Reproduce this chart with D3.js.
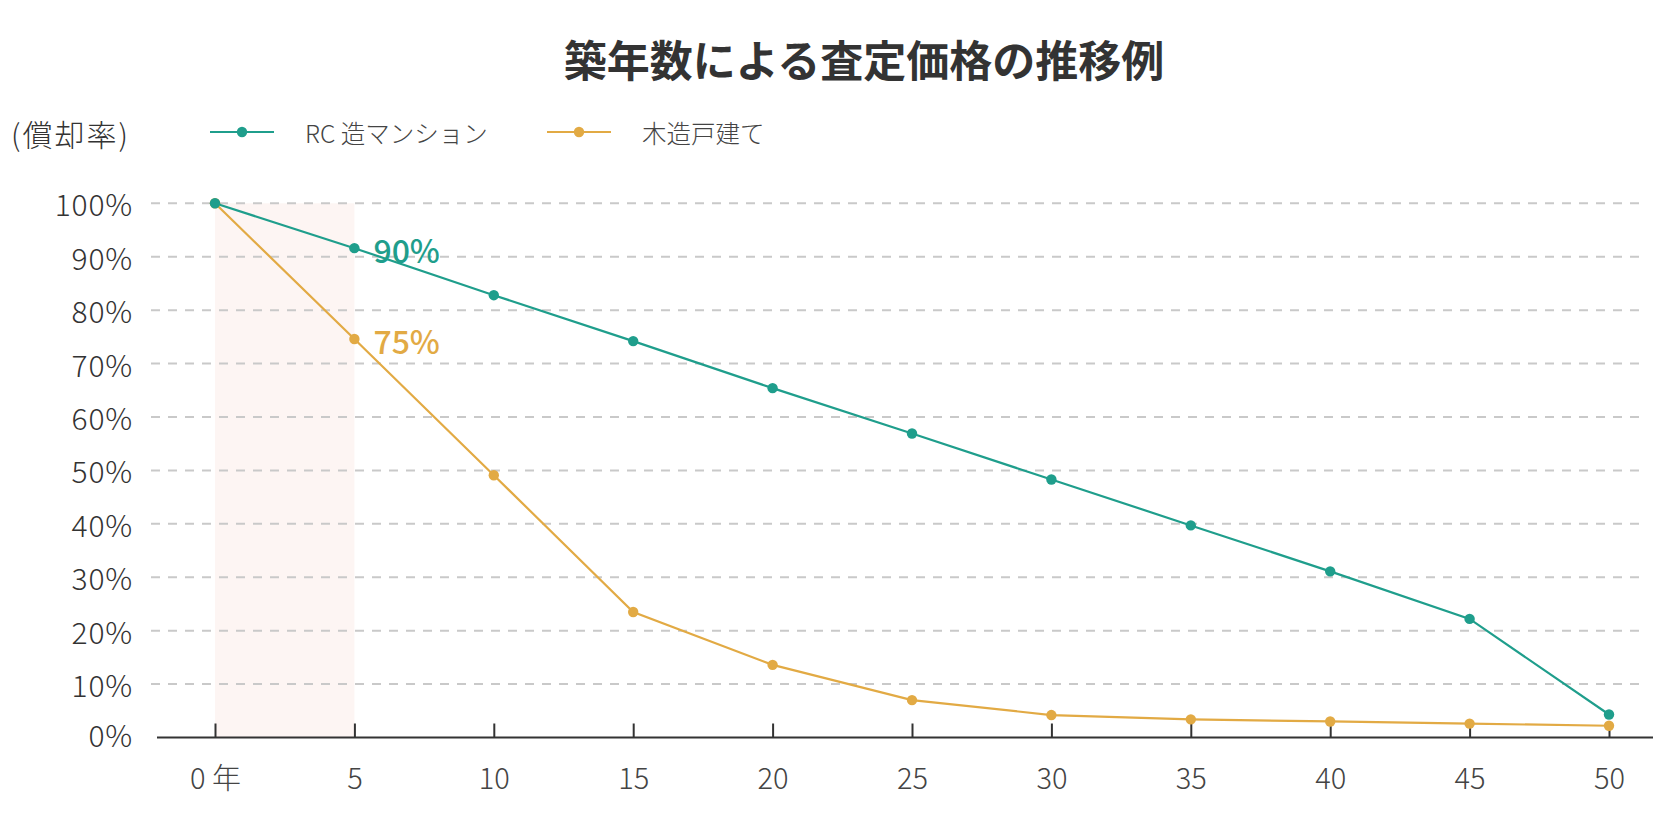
<!DOCTYPE html>
<html><head><meta charset="utf-8">
<script src="https://cdn.jsdelivr.net/npm/d3@7/dist/d3.min.js"></script>
<style>
html,body{margin:0;padding:0;background:#fff;}
svg{display:block;font-family:"Noto Sans CJK JP","Noto Sans",sans-serif;}
</style></head>
<body><svg id="c" width="1665" height="839"></svg>
<script>
const years = [0,5,10,15,20,25,30,35,40,45,50];
const rcValues = [100,91.6,82.8,74.2,65.4,56.9,48.3,39.7,31.1,22.2,4.3];
const woodValues = [100,74.6,49.1,23.5,13.6,7.0,4.2,3.4,3.0,2.6,2.2];
const yTicks = [0,10,20,30,40,50,60,70,80,90,100];
const seriesNames = ["RC 造マンション","木造戸建て"];
const annotations = [{year:5, series:0, text:"90%"},{year:5, series:1, text:"75%"}];
const title = "築年数による査定価格の推移例";
const yLabel = "(償却率)";
const colors = ["#1f9e8c","#e2aa44"];

const svg = d3.select("#c");
const x = d3.scaleLinear().domain([0,50]).range([215,1609]);
const y = d3.scaleLinear().domain([0,100]).range([737.5,203.3]);

// shaded region 0-5 years
svg.append("rect").attr("x",x(0)).attr("y",y(100)).attr("width",x(5)-x(0)).attr("height",y(0)-y(100)).attr("fill","#fdf5f3");

// gridlines
svg.append("g").selectAll("line").data(yTicks.filter(d=>d>0)).join("line")
  .attr("x1",151).attr("x2",1646).attr("y1",d=>y(d)).attr("y2",d=>y(d))
  .attr("stroke","#c9c9c9").attr("stroke-width",2).attr("stroke-dasharray","9,8");

// y labels
svg.append("g").selectAll("text").data(yTicks).join("text")
  .attr("x",133).attr("y",d=>y(d) - (d===0?4:0)).attr("text-anchor","end").attr("dominant-baseline","central")
  .attr("font-size",30).attr("font-weight",300).attr("letter-spacing",0.8).attr("fill","#333").text(d=>d+"%");

// x axis
const xAxis = d3.axisBottom(x).tickValues(years).tickSize(-14).tickPadding(30)
  .tickFormat(d=>d===0?"0 年":String(d));
const gx = svg.append("g").attr("transform",`translate(0,${y(0)})`).call(xAxis);
gx.select(".domain").remove();
gx.selectAll(".tick line").attr("stroke","#333").attr("stroke-width",2);
gx.selectAll(".tick text").attr("font-size",29).attr("font-weight",300).attr("fill","#444")
  .attr("font-family","Noto Sans CJK JP").attr("dy","0.75em");
svg.append("line").attr("x1",157).attr("x2",1653).attr("y1",y(0)).attr("y2",y(0)).attr("stroke","#333").attr("stroke-width",2.2);

// lines
const allSeries = [rcValues, woodValues];
const line = d3.line().x((d,i)=>x(years[i])).y(d=>y(d));
allSeries.forEach((vals,si)=>{
  svg.append("path").datum(vals).attr("d",line).attr("fill","none").attr("stroke",colors[si]).attr("stroke-width",2.2);
});
allSeries.slice().reverse().forEach((vals,ri)=>{
  const si = allSeries.length-1-ri;
  svg.append("g").selectAll("circle").data(vals).join("circle")
    .attr("cx",(d,i)=>x(years[i])).attr("cy",d=>y(d)).attr("r",5.2).attr("fill",colors[si]);
});

// annotations
annotations.forEach(a=>{
  const idx = years.indexOf(a.year);
  svg.append("text").attr("x",x(a.year)+19).attr("y",y(allSeries[a.series][idx])+1)
    .attr("dominant-baseline","central").attr("font-size",32).attr("font-weight",500)
    .attr("fill",colors[a.series]).text(a.text);
});

// title
svg.append("text").attr("x",864).attr("y",58).attr("text-anchor","middle").attr("dominant-baseline","central")
  .attr("font-size",43).attr("font-weight",700).attr("fill","#333").text(title);

// y label
svg.append("text").attr("x",11).attr("y",133).attr("dominant-baseline","central")
  .attr("font-size",30).attr("font-weight",300).attr("letter-spacing",2).attr("fill","#333").text(yLabel);

// legend
const legX = [210,547];
const legTextX = [305,642];
seriesNames.forEach((n,i)=>{
  const g = svg.append("g");
  g.append("line").attr("x1",legX[i]).attr("x2",legX[i]+64).attr("y1",132).attr("y2",132).attr("stroke",colors[i]).attr("stroke-width",2.2);
  g.append("circle").attr("cx",legX[i]+32).attr("cy",132).attr("r",5.2).attr("fill",colors[i]);
  g.append("text").attr("x",legTextX[i]).attr("y",132).attr("dominant-baseline","central")
    .attr("font-size",24.5).attr("font-weight",300).attr("fill","#444").text(n);
});
</script></body></html>
